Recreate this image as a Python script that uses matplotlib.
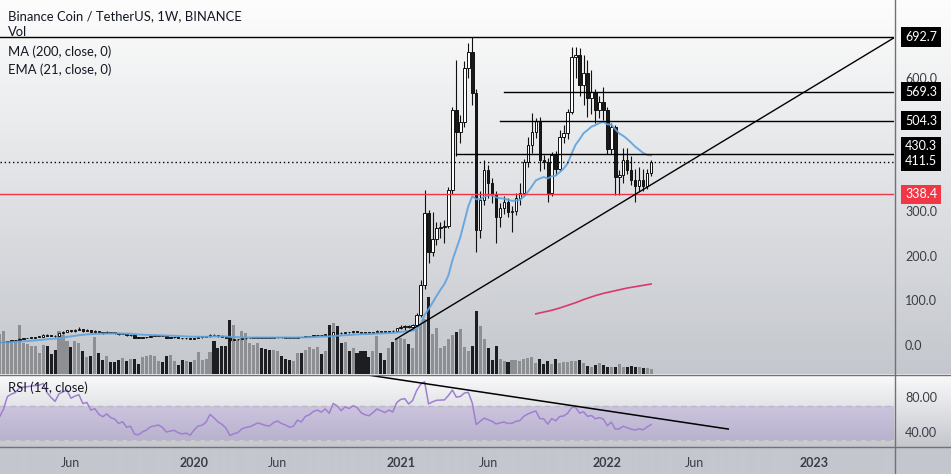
import numpy as np
import pandas as pd
import matplotlib
matplotlib.use("Agg")
import matplotlib.pyplot as plt
import matplotlib.dates as mdates
from matplotlib.lines import Line2D

plt.rcParams['font.family'] = ['Lato', 'DejaVu Sans']

# weekly closes Sep 2018 - Jan 2019, off screen, only to warm up EMA / RSI
warmup_close = [6.0, 6.2, 6.4, 6.3, 6.1, 5.9, 5.8, 5.6, 5.5, 5.4, 5.3, 5.0, 4.8, 4.6,
                4.5, 5.0, 5.3, 5.6, 5.9, 6.0, 5.9]

# BNB/USDT weekly bars, first bar week of 2019-01-28
close_2019 = [6.2, 6.9, 9.3, 10.2, 10.9, 14.4, 15.3, 15.9, 16.8, 17.6, 18.2, 22.8,
              21.2, 20.3, 19.5, 26.8, 29.8, 33.2, 30.6, 33.5, 35.8, 32.4, 33.6, 30.2,
              31.5, 28.8, 27.4, 29.6, 27.6, 26.8, 24.2, 25.3, 21.8, 22.4, 16.2, 15.6,
              17.2, 18.1, 19.9, 20.4, 20.9, 19.6, 16.4, 16.9, 17.2, 15.6, 14.9, 15.2, 13.9]
high_2019 = [6.6, 7.2, 9.8, 10.9, 11.6, 15.2, 16.4, 16.7, 17.6, 18.4, 19.2, 24.8,
             24.1, 22.3, 21.6, 27.9, 32.0, 34.5, 34.0, 35.2, 39.5, 36.8, 35.6, 34.2,
             33.0, 32.0, 29.4, 31.4, 30.2, 29.0, 27.4, 26.0, 25.8, 23.0, 22.6, 17.2,
             17.9, 18.8, 21.4, 21.5, 21.8, 21.4, 19.8, 17.4, 17.9, 17.4, 15.8, 15.6, 15.3]
low_2019 = [5.6, 6.0, 6.8, 9.0, 9.9, 10.6, 13.8, 14.9, 15.3, 16.2, 16.9, 17.9,
            20.0, 19.4, 17.8, 19.2, 24.5, 28.9, 28.4, 30.0, 32.8, 30.0, 30.8, 28.6,
            26.2, 27.6, 25.8, 26.8, 26.0, 25.4, 23.4, 23.6, 20.6, 20.8, 15.5, 15.0,
            15.2, 16.6, 17.8, 19.2, 19.8, 19.2, 15.9, 14.8, 15.8, 15.1, 14.2, 13.6, 12.8]
vol_2019 = [40, 43, 33, 33, 33, 49, 31, 30, 28, 28, 21, 29, 28, 20, 24, 43, 39, 33,
            27, 33, 31, 23, 17, 18, 37, 21, 14, 18, 12, 12, 14, 16, 13, 15, 15, 10,
            17, 18, 19, 18, 13, 12, 18, 19, 13, 9, 14, 13, 12]

close_2020 = [15.9, 17.6, 17.9, 19.3, 23.5, 22.0, 20.1, 18.8, 16.8, 11.6, 12.4, 12.9,
              14.6, 15.3, 15.6, 16.4, 17.3, 16.8, 16.2, 16.0, 17.3, 17.9, 17.0, 16.4,
              15.6, 15.9, 18.0, 17.4, 19.6, 20.3, 21.8, 22.6, 22.0, 23.6, 22.4, 28.6,
              27.8, 26.2, 28.9, 28.3, 30.4, 29.8, 28.0, 27.2, 26.8, 28.5, 30.8, 30.2,
              29.6, 31.0, 30.4, 37.4]
high_2020 = [16.2, 18.3, 18.9, 19.8, 24.9, 25.0, 23.1, 21.5, 21.0, 17.2, 13.8, 13.5,
             15.6, 16.0, 16.4, 17.0, 18.5, 18.0, 17.6, 17.0, 17.8, 18.4, 18.0, 17.3,
             16.6, 16.2, 18.4, 18.5, 20.0, 21.3, 22.5, 23.4, 23.1, 24.4, 24.3, 30.2,
             33.4, 28.8, 29.6, 30.0, 32.0, 31.2, 30.2, 29.5, 28.0, 29.2, 32.6, 31.3,
             31.4, 31.8, 33.0, 38.2]
low_2020 = [13.6, 15.4, 16.6, 16.9, 18.9, 21.0, 18.6, 18.0, 16.2, 6.8, 10.2, 11.8,
            12.6, 13.8, 14.6, 15.0, 16.0, 15.6, 15.0, 15.6, 15.8, 16.6, 16.4, 15.8,
            15.1, 15.2, 15.7, 17.0, 17.2, 19.0, 19.9, 21.0, 21.3, 21.5, 20.1, 22.0,
            26.5, 25.0, 26.0, 27.5, 28.0, 28.9, 27.3, 25.8, 25.5, 26.3, 28.0, 28.9,
            28.6, 29.0, 28.6, 30.0]
vol_2020 = [14, 22, 14, 15, 22, 33, 26, 28, 28, 54, 49, 34, 43, 41, 31, 29, 31, 26,
            25, 24, 24, 23, 18, 15, 14, 13, 21, 21, 24, 27, 25, 27, 20, 23, 49, 51,
            48, 31, 32, 23, 26, 21, 23, 23, 17, 23, 38, 21, 14, 26, 32, 36]

close_2021_22 = [41, 42, 40, 44, 68, 135, 297, 209, 238, 262, 266, 268, 348, 528, 479,
                 501, 622, 658, 566, 258, 326, 393, 364, 337, 288, 308, 321, 299, 302,
                 330, 342, 411, 449, 479, 503, 416, 411, 342, 427, 396, 467, 476, 524,
                 647, 652, 584, 611, 555, 569, 528, 546, 528, 440, 490, 378, 382, 416,
                 393, 371, 357, 371, 357, 386, 411.5]
high_2021_22 = [44.5, 45, 46, 47.5, 72, 146, 348, 303, 299, 276, 277, 281, 355, 535, 640,
                517, 638, 679, 692.7, 575, 345, 415, 405, 375, 345, 318, 335, 330, 312,
                342, 363, 418, 468, 521, 510, 512, 428, 420, 433, 436, 483, 495, 530,
                670, 669, 668, 652, 640, 618, 575, 560, 580, 535, 500, 495, 393, 443,
                443, 425, 395, 400, 395, 395, 415]
low_2021_22 = [35, 34.5, 38, 36.8, 42.5, 63, 125, 185, 200, 225, 240, 229, 262, 340, 425,
               454, 490, 600, 540, 210, 240, 315, 330, 320, 229, 265, 295, 288, 255,
               292, 315, 335, 400, 432, 465, 390, 395, 321, 335, 382, 390, 455, 462,
               520, 600, 560, 540, 512, 520, 500, 510, 505, 430, 430, 337, 337, 365,
               385, 360, 321, 345, 345, 350, 380]
vol_2021_22 = [36, 35, 30, 26, 45, 50, 55, 77, 40, 46, 26, 28, 35, 39, 42, 45, 27, 23,
               28, 63, 48, 35, 26, 14, 28, 15, 13, 12, 14, 14, 13, 15, 16, 17, 11, 15,
               10, 13, 10, 15, 11, 12, 12, 13, 13, 14, 11, 8, 7, 9, 11, 9, 7, 7, 7, 10,
               7, 7, 8, 7, 7, 6, 6, 5]

# MA(200) as drawn, weeks 2021-08-30 .. 2022-03-21
ma200_vals = [70, 72, 74, 76, 78, 80.5, 83, 86, 89, 92, 95, 98.5, 102, 105, 108, 111,
              113.5, 116, 118, 120, 122, 124, 126, 128, 129.5, 131, 132.5, 134, 135.5, 137]

# drawings
hlines_full = [692.7]
hlines_from = [(430.3, "2021-04-12"), (504.3, "2021-06-28"), (569.3, "2021-07-05")]
support_level = 338.4
last_price = 411.5
trend_pts = [("2020-12-26", 12.8), ("2023-05-26", 692.7)]
rsi_trend_pts = [("2020-11-06", 106.0), ("2022-08-04", 43.1)]
price_ticks = [0, 100, 200, 300, 600]
rsi_ticks = [40, 80]
time_ticks = ["2019-06-03", "2020-01-06", "2020-06-01", "2021-01-04", "2021-06-07",
              "2022-01-03", "2022-06-06", "2023-01-02"]
time_labels = ["Jun", "2020", "Jun", "2021", "Jun", "2022", "Jun", "2023"]

close = np.array(close_2019 + close_2020 + close_2021_22, dtype=float)
high = np.array(high_2019 + high_2020 + high_2021_22, dtype=float)
low = np.array(low_2019 + low_2020 + low_2021_22, dtype=float)
vol = np.array(vol_2019 + vol_2020 + vol_2021_22, dtype=float)
opn = np.concatenate([[warmup_close[-1]], close[:-1]])
dates = pd.date_range("2019-01-28", periods=len(close), freq="7D")
x = mdates.date2num(dates)
up = close >= opn


def ema(src, n):
    a = 2.0 / (n + 1)
    out = np.empty_like(src)
    out[0] = src[0]
    for i in range(1, len(src)):
        out[i] = a * src[i] + (1 - a) * out[i - 1]
    return out


def rsi(src, n=14):
    d = np.diff(src)
    g = np.maximum(d, 0)
    l = np.maximum(-d, 0)
    out = np.full(len(src), np.nan)
    ag, al = g[:n].mean(), l[:n].mean()
    out[n] = 100 - 100 / (1 + ag / al)
    for i in range(n + 1, len(src)):
        ag = (ag * (n - 1) + g[i - 1]) / n
        al = (al * (n - 1) + l[i - 1]) / n
        out[i] = 100 - 100 / (1 + ag / al)
    return out


full = np.array(warmup_close + list(close))
nw = len(warmup_close)
ema21 = ema(full, 21)[nw:]
rsi14 = rsi(full)[nw:]

W, H = 951, 474
fig = plt.figure(figsize=(W / 100, H / 100), dpi=100)

# pixel layout
RIGHT = 894
MAIN_B = 374
RSI_T, RSI_B = 375, 446


def rect(top, bottom, right=RIGHT):
    return [0, 1 - bottom / H, right / W, (bottom - top) / H]


# background gradients (per pane)
bg = fig.add_axes([0, 0, 1, 1])
rows = np.zeros((H, 1, 3))
c_top = np.array([253, 253, 253]) / 255
c_bot = np.array([196, 199, 205]) / 255
t = np.linspace(0, 1, MAIN_B)[:, None]
rows[:MAIN_B, 0] = c_top + (c_bot - c_top) * t
r_top = np.array([250, 250, 251]) / 255
r_bot = np.array([198, 200, 206]) / 255
t = np.linspace(0, 1, RSI_B - MAIN_B)[:, None]
rows[MAIN_B:RSI_B, 0] = r_top + (r_bot - r_top) * t
rows[RSI_B:, 0] = np.array([196, 199, 205]) / 255
bg.imshow(rows, aspect="auto", extent=[0, 1, 0, 1], origin="upper")
bg.axis("off")

xlim = (mdates.date2num(pd.Timestamp("2019-01-29")), mdates.date2num(pd.Timestamp("2023-05-23")))
ylim = (-65.2, 775.3)

# volume (behind)
axv = fig.add_axes(rect(0, MAIN_B))
axv.set_facecolor("none")
axv.bar(x, vol, width=5.4, color=np.where(up, "#8e8f93", "#1d1e21"), linewidth=0)
axv.set_xlim(xlim)
axv.set_ylim(0, vol.max() * MAIN_B / 77)
axv.axis("off")

# price
ax = fig.add_axes(rect(0, MAIN_B))
ax.set_facecolor("none")
ax.set_xlim(xlim)
ax.set_ylim(ylim)
for s in ax.spines.values():
    s.set_visible(False)
ax.set_xticks([])
ax.yaxis.tick_right()
ax.set_yticks(price_ticks)
ax.set_yticklabels([f"{v:.1f}" for v in price_ticks])
ax.tick_params(axis="y", length=0, pad=8, labelsize=9, labelcolor="#3a3d44")

ax.vlines(x, low, high, color="#111111", linewidth=0.8, zorder=3)
body_b = np.minimum(opn, close)
body_h = np.maximum(np.abs(close - opn), 1.5)
ax.bar(x, body_h, bottom=body_b, width=4.4, color=np.where(up, "white", "#1a1a1a"),
       edgecolor="#111111", linewidth=0.7, zorder=4)

ax.plot(x, ema21, color="#5ea2de", linewidth=1.4, alpha=0.9, zorder=5)
ax.plot(x[-len(ma200_vals):], ma200_vals, color="#d9396b", linewidth=1.2, zorder=5)

for v in hlines_full:
    ax.axhline(v, color="black", linewidth=1, zorder=6)
for v, d0 in hlines_from:
    ax.plot([mdates.date2num(pd.Timestamp(d0)), xlim[1]], [v, v], color="black", linewidth=1, zorder=6)
ax.axhline(support_level, color="#f23645", linewidth=1, zorder=6)
ax.axhline(last_price, color="black", linewidth=1, linestyle=(0, (1, 2)), zorder=6)
tx = [mdates.date2num(pd.Timestamp(d)) for d, _ in trend_pts]
ty = [p for _, p in trend_pts]
ax.plot(tx, ty, color="black", linewidth=1, zorder=6)

# price-scale labels; 430.3 and 411.5 share one block as on the chart
label_boxes = [(692.7, "692.7", "black", 0), (569.3, "569.3", "black", 0),
               (504.3, "504.3", "black", 0), (last_price, "430.3\n411.5", "black", 8),
               (support_level, "338.4", "#f23645", 0)]
for v, s, col, dy in label_boxes:
    ax.annotate(s, xy=(1, v), xycoords=ax.get_yaxis_transform(),
                xytext=(11, dy), textcoords="offset pixels", ha="left", va="center",
                color="white", fontsize=9, linespacing=1.3,
                bbox=dict(boxstyle="square,pad=0.3", fc=col, ec="none"),
                zorder=10, annotation_clip=False)

# RSI pane
axr = fig.add_axes(rect(RSI_T, RSI_B))
axr.set_facecolor("none")
axr.set_xlim(xlim)
axr.set_ylim(23.4, 105.9)
for s in axr.spines.values():
    s.set_visible(False)
axr.axhspan(30, 70, color="#7e57c2", alpha=0.22, linewidth=0)
axr.axhline(70, color="#b8b9c0", linewidth=1, linestyle=(0, (4, 3)))
axr.axhline(30, color="#b8b9c0", linewidth=1, linestyle=(0, (4, 3)))
axr.plot(x, rsi14, color="#9f7fcf", linewidth=1.1)
rx = [mdates.date2num(pd.Timestamp(d)) for d, _ in rsi_trend_pts]
ry = [p for _, p in rsi_trend_pts]
axr.plot(rx, ry, color="black", linewidth=1.1)
axr.yaxis.tick_right()
axr.set_yticks(rsi_ticks)
axr.set_yticklabels([f"{v:.2f}" for v in rsi_ticks])
axr.tick_params(axis="y", length=0, pad=8, labelsize=9, labelcolor="#3a3d44")
axr.set_xticks([mdates.date2num(pd.Timestamp(d)) for d in time_ticks])
axr.set_xticklabels(time_labels)
axr.tick_params(axis="x", length=0, pad=8, labelsize=9, labelcolor="#3a3d44")
for lab in axr.get_xticklabels():
    if lab.get_text().isdigit():
        lab.set_fontweight("bold")


# separators
def fline(x0, y0, x1, y1, color="#8a8d94", lw=1):
    fig.add_artist(Line2D([x0 / W, x1 / W], [1 - y0 / H, 1 - y1 / H], color=color, linewidth=lw))


fline(0, 374.5, W, 374.5, "#6f7279")
fline(0, 446.5, W, 446.5, "#6f7279")
fline(RIGHT + 0.5, 0, RIGHT + 0.5, H, "#6f7279")

# legends
txt = dict(color="#131722", fontsize=9.4, va="baseline", ha="left")
fig.text(8 / W, 1 - 20 / H, "Binance Coin / TetherUS, 1W, BINANCE", **txt)
fig.text(8 / W, 1 - 36 / H, "Vol", **txt)
fig.text(8 / W, 1 - 56 / H, "MA (200, close, 0)", **txt)
fig.text(8 / W, 1 - 74 / H, "EMA (21, close, 0)", **txt)
fig.text(8 / W, 1 - 392 / H, "RSI (14, close)", **txt)

fig.savefig("out.png", dpi=100)
